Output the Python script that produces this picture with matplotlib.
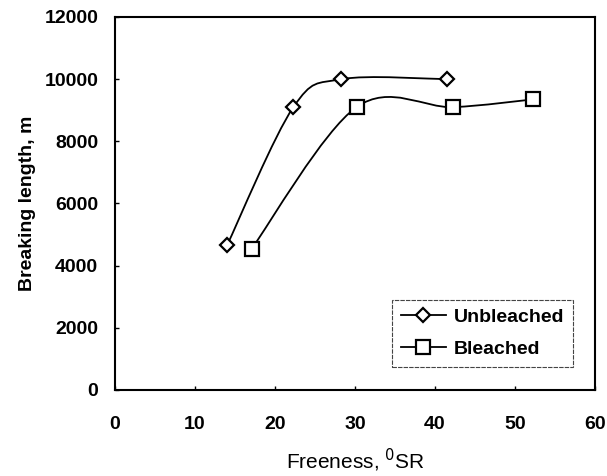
import matplotlib
matplotlib.use("Agg")
import matplotlib.pyplot as plt
from matplotlib.path import Path
from matplotlib.patches import PathPatch
from matplotlib.lines import Line2D

plt.rcParams['font.family'] = ['Liberation Sans', 'DejaVu Sans']

# data
unbl_x = [14, 22.3, 28.3, 41.5]
unbl_y = [4650, 9100, 10000, 10000]
bl_x = [17.1, 30.2, 42.3, 52.3]
bl_y = [4550, 9100, 9100, 9350]

x_ticks = [0, 10, 20, 30, 40, 50, 60]
y_ticks = [0, 2000, 4000, 6000, 8000, 10000, 12000]


def smooth_path(xs, ys):
    # excel-style smoothed line: catmull-rom turned into cubic beziers
    pts = list(zip(xs, ys))
    verts = [pts[0]]
    codes = [Path.MOVETO]
    n = len(pts)
    for i in range(n - 1):
        p0 = pts[i - 1] if i > 0 else pts[i]
        p1 = pts[i]
        p2 = pts[i + 1]
        p3 = pts[i + 2] if i + 2 < n else pts[i + 1]
        c1 = (p1[0] + (p2[0] - p0[0]) / 6, p1[1] + (p2[1] - p0[1]) / 6)
        c2 = (p2[0] - (p3[0] - p1[0]) / 6, p2[1] - (p3[1] - p1[1]) / 6)
        verts += [c1, c2, p2]
        codes += [Path.CURVE4] * 3
    return Path(verts, codes)


fig = plt.figure(figsize=(6.07, 4.76), dpi=100)
ax = fig.add_axes([0.1895, 0.1807, 0.7905, 0.7836])

for xs, ys, mk, ms in [(unbl_x, unbl_y, 'D', 7), (bl_x, bl_y, 's', 10)]:
    ax.add_patch(PathPatch(smooth_path(xs, ys), facecolor='none',
                           edgecolor='black', lw=1.3, zorder=2))
    ax.plot(xs, ys, linestyle='none', marker=mk, markersize=ms,
            markerfacecolor='white', markeredgecolor='black',
            markeredgewidth=1.6, zorder=3)

ax.set_xlim(0, 60)
ax.set_ylim(0, 12000)
ax.set_xticks(x_ticks)
ax.set_yticks(y_ticks)
ax.tick_params(direction='in', length=3, width=1, labelsize=14)
ax.tick_params(axis='x', pad=19)
ax.tick_params(axis='y', pad=12)
for lab in ax.get_xticklabels() + ax.get_yticklabels():
    lab.set_fontweight('bold')
for s in ax.spines.values():
    s.set_linewidth(1.5)

ax.set_xlabel('Freeness, $^{0}$SR', fontsize=15, labelpad=10)
ax.set_ylabel('Breaking length, m', fontsize=14, fontweight='bold', labelpad=6)

handles = [
    Line2D([], [], color='black', lw=1.3, marker='D', markersize=7,
           markerfacecolor='white', markeredgewidth=1.6),
    Line2D([], [], color='black', lw=1.3, marker='s', markersize=10,
           markerfacecolor='white', markeredgewidth=1.6),
]
leg = ax.legend(handles, ['Unbleached', 'Bleached'], loc='lower right',
                bbox_to_anchor=(0.954, 0.062), borderaxespad=0,
                prop={'size': 14, 'weight': 'bold'}, handlelength=2.3,
                handletextpad=0.4, borderpad=0.45, labelspacing=0.75,
                fancybox=False, framealpha=1)
leg.get_frame().set_edgecolor('#444444')
leg.get_frame().set_linewidth(0.8)
leg.get_frame().set_linestyle((0, (4, 1)))

fig.savefig('out.png', dpi=100)
